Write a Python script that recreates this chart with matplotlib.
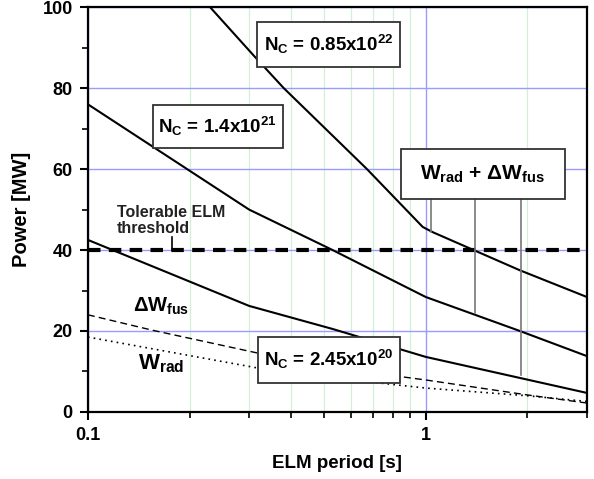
import matplotlib
matplotlib.use("Agg")
import matplotlib.pyplot as plt
from matplotlib.patches import Rectangle
from matplotlib.ticker import FixedLocator, NullFormatter

plt.rcParams['font.family'] = ['Liberation Sans', 'DejaVu Sans']
plt.rcParams['font.weight'] = 'bold'
plt.rcParams['mathtext.fontset'] = 'custom'
plt.rcParams['mathtext.rm'] = 'Liberation Sans:bold'
plt.rcParams['mathtext.it'] = 'Liberation Sans:bold'
plt.rcParams['mathtext.bf'] = 'Liberation Sans:bold'

# curves (ELM period [s], power [MW])
t_high = [0.23, 0.31, 0.38, 0.67, 0.98, 1.05, 1.9, 3.0]
p_high = [100, 88, 80, 60, 45.7, 44.4, 35, 28.4]

t_mid = [0.1, 0.3, 0.53, 1.0, 1.9, 3.0]
p_mid = [76, 50, 40, 28.4, 20, 13.8]

t_low = [0.1, 0.3, 0.53, 1.0, 1.9, 3.0]
p_low = [42.5, 26.2, 20.5, 13.6, 8.4, 4.7]

t_fus = [0.1, 0.155, 0.316, 0.78, 1.0, 2.0, 3.0]
p_fus = [24, 20.2, 14.6, 9.1, 7.9, 4.2, 2.2]

t_rad = [0.1, 0.316, 0.72, 1.0, 2.0, 3.0]
p_rad = [18.5, 10.9, 7.2, 5.9, 4.0, 2.6]

t_thr = [0.1, 3.0]
p_thr = [40, 40]

# pointer lines from the W_rad + dW_fus box down to the curves
ptr_t = [1.04, 1.4, 1.91]
ptr_top = 52.6
ptr_bot = [44.4, 24.4, 9.1]

fig = plt.figure(figsize=(5.94, 4.79), dpi=100)
ax = fig.add_axes([0.148, 0.14, 0.84, 0.845])

ax.set_xscale('log')
ax.set_xlim(0.1, 3.0)
ax.set_ylim(0, 100)

ax.xaxis.set_major_locator(FixedLocator([0.1, 1]))
ax.xaxis.set_minor_locator(FixedLocator([0.2, 0.3, 0.4, 0.5, 0.6, 0.7, 0.8, 0.9, 2, 3]))
ax.set_xticklabels(['0.1', '1'])
ax.xaxis.set_minor_formatter(NullFormatter())
ax.yaxis.set_major_locator(FixedLocator([0, 20, 40, 60, 80, 100]))
ax.yaxis.set_minor_locator(FixedLocator([10, 30, 50, 70, 90]))

ax.grid(which='major', color='#9a9aff', lw=1.0)
ax.grid(which='minor', axis='x', color='#d4f0d4', lw=0.9)
ax.set_axisbelow(True)

ax.tick_params(which='major', direction='out', length=6, width=1.5, labelsize=13, pad=5)
ax.tick_params(which='minor', direction='out', length=4, width=1.2)
for s in ax.spines.values():
    s.set_linewidth(1.6)
for lab in ax.get_xticklabels() + ax.get_yticklabels():
    lab.set_fontweight('bold')

ax.plot(t_high, p_high, color='black', lw=1.5)
ax.plot(t_mid, p_mid, color='black', lw=1.5)
ax.plot(t_low, p_low, color='black', lw=1.5)
ax.plot(t_fus, p_fus, color='black', lw=1.0, ls=(0, (5, 3)))
ax.plot(t_rad, p_rad, color='black', lw=1.2, ls=(0, (1, 2.5)))
ax.plot(t_thr, p_thr, color='black', lw=3, ls=(0, (3, 2)))

for t, b in zip(ptr_t, ptr_bot):
    ax.plot([t, t], [ptr_top, b], color='#777777', lw=1.2)
ax.plot([0.177, 0.177], [40, 43.2], color='black', lw=1.2)

# label boxes (axes fraction: x0, y0, x1, y1), their texts and sizes
boxes = [
    ((0.339, 0.852, 0.625, 0.963), r'N$_C$ = 0.85x10$^{22}$', 13.5),
    ((0.130, 0.652, 0.391, 0.758), r'N$_C$ = 1.4x10$^{21}$', 13.5),
    ((0.627, 0.526, 0.956, 0.649), r'W$_{rad}$ + ΔW$_{fus}$', 15),
    ((0.341, 0.072, 0.625, 0.185), r'N$_C$ = 2.45x10$^{20}$', 13.5),
]
for (x0, y0, x1, y1), txt, fs in boxes:
    ax.add_patch(Rectangle((x0, y0), x1 - x0, y1 - y0, transform=ax.transAxes,
                           fc='white', ec='#333333', lw=1.3, zorder=5))
    ax.text((x0 + x1) / 2, (y0 + y1) / 2, txt, transform=ax.transAxes,
            ha='center', va='center', fontsize=fs, fontweight='bold', zorder=6)

ax.text(0.09, 0.26, r'ΔW$_{fus}$', transform=ax.transAxes, ha='left', va='center',
        fontsize=14.5, fontweight='bold')
ax.text(0.1, 0.12, r'W$_{rad}$', transform=ax.transAxes, ha='left', va='center',
        fontsize=16, fontweight='bold')
ax.text(0.058, 0.472, 'Tolerable ELM\nthreshold', transform=ax.transAxes, ha='left',
        va='center', fontsize=11.5, fontweight='bold', color='#222222', linespacing=1.1)

ax.set_xlabel('ELM period [s]', fontsize=13.5, fontweight='bold', labelpad=8)
ax.set_ylabel('Power [MW]', fontsize=14.5, fontweight='bold', labelpad=8)

fig.savefig('out.png', dpi=100)
